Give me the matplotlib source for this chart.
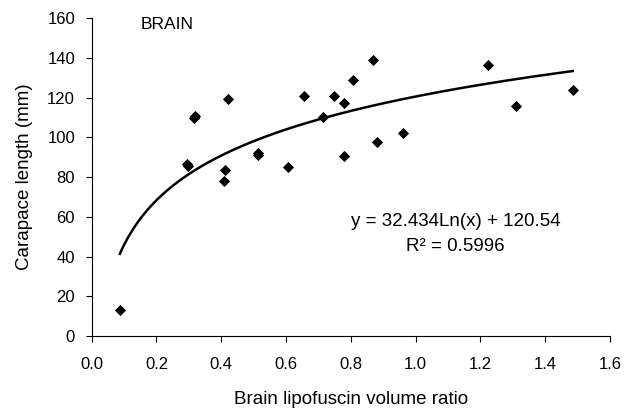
import numpy as np
import matplotlib
matplotlib.use("Agg")
import matplotlib.pyplot as plt

plt.rcParams['font.family'] = ['Liberation Sans', 'DejaVu Sans']

# Data
ratio = [0.087, 0.298, 0.295, 0.317, 0.319, 0.420, 0.413, 0.409, 0.512, 0.514,
         0.607, 0.655, 0.715, 0.748, 0.780, 0.780, 0.807, 0.867, 0.880, 0.960,
         1.222, 1.310, 1.485]
length = [13.1, 85.7, 86.5, 109.5, 110.5, 119.1, 83.5, 78.0, 91.1, 92.0,
          85.2, 120.9, 110.0, 120.9, 117.4, 90.6, 128.8, 138.7, 97.8, 102.3,
          136.2, 115.7, 123.8]

fit_a = 32.434
fit_b = 120.54
r2 = 0.5996

xticks = [0.0, 0.2, 0.4, 0.6, 0.8, 1.0, 1.2, 1.4, 1.6]
yticks = [0, 20, 40, 60, 80, 100, 120, 140, 160]

fig = plt.figure(figsize=(6.25, 4.12), dpi=100)
ax = fig.add_axes([0.1467, 0.1845, 0.976 - 0.1467, 0.956 - 0.1845])

xs = np.linspace(min(ratio), max(ratio), 200)
ax.plot(xs, fit_a * np.log(xs) + fit_b, color='black', lw=1.8, zorder=2)
ax.plot(ratio, length, linestyle='none', marker='D', ms=5.2, color='black',
        mec='black', mew=0.6, zorder=3)

ax.set_xlim(0, 1.6)
ax.set_ylim(0, 160)
ax.set_xticks(xticks)
ax.set_yticks(yticks)
ax.set_xticklabels([f"{t:.1f}" for t in xticks])
ax.set_yticklabels([str(t) for t in yticks])

for s in ['top', 'right']:
    ax.spines[s].set_visible(False)
for s in ['left', 'bottom']:
    ax.spines[s].set_linewidth(0.8)
    ax.spines[s].set_color('black')

ax.tick_params(axis='both', direction='out', length=4, width=0.8,
               labelsize=12, colors='black')
ax.tick_params(axis='y', pad=8)
ax.tick_params(axis='x', pad=11)

ax.set_xlabel('Brain lipofuscin volume ratio', fontsize=13.5, labelpad=14)
ax.set_ylabel('Carapace length (mm)', fontsize=13.5, labelpad=10)

ax.text(0.152, 157, 'BRAIN', fontsize=12.5, ha='left', va='center')
ax.text(1.124, 57.4, f'y = {fit_a}Ln(x) + {fit_b}', fontsize=13.5,
        ha='center', va='center')
ax.text(1.124, 45.0, f'R² = {r2}', fontsize=13.5, ha='center', va='center')

fig.savefig('out.png', dpi=100)
